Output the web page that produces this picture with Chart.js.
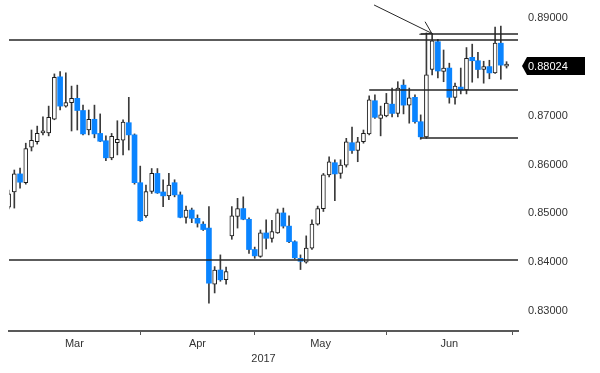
<!DOCTYPE html>
<html>
<head>
<meta charset="utf-8">
<script src="https://cdn.jsdelivr.net/npm/chart.js@4.4.1/dist/chart.umd.min.js"></script>
<style>
  html, body { margin: 0; padding: 0; background: #fff; }
  #wrap { width: 600px; height: 373px; }
</style>
</head>
<body>
<div id="wrap"><canvas id="fxChart" width="600" height="373"></canvas></div>
<script>
// daily candles, Mar - Jun 2017
const dates = [
  '2017-03-01', '2017-03-02', '2017-03-03', '2017-03-06', '2017-03-07', '2017-03-08', '2017-03-09', '2017-03-10',
  '2017-03-13', '2017-03-14', '2017-03-15', '2017-03-16', '2017-03-17', '2017-03-20', '2017-03-21', '2017-03-22',
  '2017-03-23', '2017-03-24', '2017-03-27', '2017-03-28', '2017-03-29', '2017-03-30', '2017-03-31',
  '2017-04-03', '2017-04-04', '2017-04-05', '2017-04-06', '2017-04-07', '2017-04-10', '2017-04-11', '2017-04-12',
  '2017-04-13', '2017-04-14', '2017-04-17', '2017-04-18', '2017-04-19', '2017-04-20', '2017-04-21', '2017-04-24',
  '2017-04-25', '2017-04-26', '2017-04-27', '2017-04-28',
  '2017-05-01', '2017-05-02', '2017-05-03', '2017-05-04', '2017-05-05', '2017-05-08', '2017-05-09', '2017-05-10',
  '2017-05-11', '2017-05-12', '2017-05-15', '2017-05-16', '2017-05-17', '2017-05-18', '2017-05-19', '2017-05-22',
  '2017-05-23', '2017-05-24', '2017-05-25', '2017-05-26', '2017-05-29', '2017-05-30', '2017-05-31',
  '2017-06-01', '2017-06-02', '2017-06-05', '2017-06-06', '2017-06-07', '2017-06-08', '2017-06-09', '2017-06-12',
  '2017-06-13', '2017-06-14', '2017-06-15', '2017-06-16', '2017-06-19', '2017-06-20', '2017-06-21', '2017-06-22',
  '2017-06-23', '2017-06-26', '2017-06-27', '2017-06-28', '2017-06-29', '2017-06-30'
];

const open = [
  0.8513, 0.8544, 0.8581, 0.8563, 0.8636, 0.8647, 0.8665, 0.8665, 0.8693, 0.8780,
  0.8720, 0.8727, 0.8736, 0.8711, 0.8671, 0.8693, 0.8664, 0.8649, 0.8614, 0.8645,
  0.8650, 0.8686, 0.8661, 0.8563, 0.8495, 0.8545, 0.8582, 0.8544, 0.8536, 0.8563,
  0.8538, 0.8492, 0.8507, 0.8490, 0.8478, 0.8470, 0.8355, 0.8384, 0.8364, 0.8454,
  0.8494, 0.8510, 0.8488, 0.8426, 0.8412, 0.8460, 0.8449, 0.8460, 0.8501, 0.8474,
  0.8442, 0.8408, 0.8400, 0.8429, 0.8478, 0.8510, 0.8579, 0.8604, 0.8582, 0.8599,
  0.8645, 0.8629, 0.8647, 0.8663, 0.8731, 0.8695, 0.8700, 0.8724, 0.8705, 0.8763,
  0.8722, 0.8738, 0.8688, 0.8657, 0.8795, 0.8852, 0.8791, 0.8798, 0.8738, 0.8759,
  0.8753, 0.8820, 0.8813, 0.8795, 0.8801, 0.8788, 0.8849, 0.8802
];
const high = [
  0.8548, 0.8589, 0.8593, 0.8644, 0.8671, 0.8679, 0.8698, 0.8720, 0.8786, 0.8791,
  0.8788, 0.8761, 0.8763, 0.8722, 0.8712, 0.8722, 0.8704, 0.8659, 0.8664, 0.8690,
  0.8692, 0.8738, 0.8663, 0.8597, 0.8558, 0.8592, 0.8592, 0.8569, 0.8582, 0.8569,
  0.8544, 0.8515, 0.8511, 0.8497, 0.8483, 0.8514, 0.8391, 0.8415, 0.8390, 0.8514,
  0.8531, 0.8534, 0.8491, 0.8431, 0.8466, 0.8487, 0.8486, 0.8509, 0.8511, 0.8495,
  0.8444, 0.8415, 0.8454, 0.8487, 0.8515, 0.8582, 0.8616, 0.8610, 0.8610, 0.8654,
  0.8677, 0.8656, 0.8671, 0.8741, 0.8743, 0.8720, 0.8746, 0.8757, 0.8770, 0.8774,
  0.8757, 0.8743, 0.8702, 0.8870, 0.8869, 0.8857, 0.8835, 0.8808, 0.8767, 0.8798,
  0.8840, 0.8847, 0.8830, 0.8812, 0.8814, 0.8882, 0.8884, 0.8811
];
const low = [
  0.8509, 0.8511, 0.8552, 0.8560, 0.8628, 0.8642, 0.8661, 0.8659, 0.8692, 0.8712,
  0.8718, 0.8669, 0.8671, 0.8661, 0.8661, 0.8655, 0.8647, 0.8608, 0.8610, 0.8620,
  0.8620, 0.8630, 0.8560, 0.8484, 0.8492, 0.8541, 0.8541, 0.8514, 0.8528, 0.8534,
  0.8491, 0.8480, 0.8481, 0.8472, 0.8465, 0.8316, 0.8337, 0.8361, 0.8355, 0.8447,
  0.8470, 0.8487, 0.8418, 0.8408, 0.8410, 0.8427, 0.8441, 0.8459, 0.8470, 0.8440,
  0.8407, 0.8385, 0.8398, 0.8426, 0.8476, 0.8504, 0.8575, 0.8526, 0.8572, 0.8595,
  0.8623, 0.8606, 0.8644, 0.8661, 0.8695, 0.8659, 0.8698, 0.8698, 0.8698, 0.8704,
  0.8685, 0.8685, 0.8652, 0.8654, 0.8784, 0.8778, 0.8770, 0.8726, 0.8724, 0.8745,
  0.8745, 0.8769, 0.8778, 0.8767, 0.8776, 0.8787, 0.8775, 0.8798
];
const close = [
  0.8540, 0.8581, 0.8564, 0.8633, 0.8650, 0.8664, 0.8666, 0.8697, 0.8779, 0.8720,
  0.8727, 0.8736, 0.8711, 0.8663, 0.8693, 0.8663, 0.8648, 0.8614, 0.8658, 0.8652,
  0.8687, 0.8661, 0.8563, 0.8485, 0.8545, 0.8582, 0.8542, 0.8536, 0.8558, 0.8538,
  0.8492, 0.8507, 0.8490, 0.8480, 0.8467, 0.8357, 0.8384, 0.8364, 0.8381, 0.8495,
  0.8510, 0.8488, 0.8426, 0.8413, 0.8460, 0.8449, 0.8463, 0.8501, 0.8474, 0.8442,
  0.8409, 0.8402, 0.8429, 0.8478, 0.8510, 0.8579, 0.8606, 0.8581, 0.8599, 0.8647,
  0.8629, 0.8647, 0.8664, 0.8733, 0.8697, 0.8702, 0.8726, 0.8705, 0.8757, 0.8722,
  0.8737, 0.8688, 0.8657, 0.8784, 0.8854, 0.8792, 0.8798, 0.8738, 0.8761, 0.8753,
  0.8818, 0.8813, 0.8795, 0.8801, 0.8788, 0.8849, 0.8804, 0.88024
];

const monthNames = ['Mar', 'Apr', 'May', 'Jun'];
const yearLabel = '2017';
const yTicks = [0.83, 0.84, 0.85, 0.86, 0.87, 0.88, 0.89];

// drawn levels (price), full width or starting at a candle index
const fullLevels = [0.88555, 0.84045];
const startLevels = [
  { from: 72, price: 0.88678 },
  { from: 63, price: 0.8753 },
  { from: 72, price: 0.86546 }
];
const arrowShaft = [{ x: 63.85, y: 0.89273 }, { x: 73.93, y: 0.88692 }];
const arrowHead = [{ x: 71.76, y: 0.88672 }, { x: 73.93, y: 0.88692 }, { x: 72.76, y: 0.8893 }];

const X_MIN = 0.07, X_MAX = 89.0;
const Y_MIN = 0.8259, Y_MAX = 0.89375;
const FONT = "'Liberation Sans', Arial, sans-serif";
const TXT = '#333';
const BLUE = '#0a84ff';
const LINE = '#262626';

// month boundaries from the dates
const monthStarts = [];
dates.forEach((d, i) => {
  if (i === 0 || d.slice(5, 7) !== dates[i - 1].slice(5, 7)) monthStarts.push(i);
});
monthStarts.push(dates.length);
const monthMids = monthStarts.slice(0, -1).map((s, k) => (s + monthStarts[k + 1]) / 2);

const wicks = dates.map((d, i) => ({ x: i, y: [low[i], high[i]] }));
const upBodies = [], downBodies = [];
dates.forEach((d, i) => {
  const pt = { x: i, y: [open[i], close[i]] };
  if (close[i] >= open[i]) upBodies.push(pt); else downBodies.push(pt);
});

function lineSet(data) {
  return {
    type: 'line', data: data, borderColor: LINE, borderWidth: 1.3,
    pointRadius: 0, fill: false, order: -1, clip: 0, tension: 0
  };
}
const lineSets = fullLevels.map(p => lineSet([{ x: X_MIN, y: p }, { x: X_MAX, y: p }]))
  .concat(startLevels.map(l => lineSet([{ x: l.from, y: l.price }, { x: X_MAX, y: l.price }])));
const shaft = lineSet(arrowShaft); shaft.borderWidth = 1;
const head = lineSet(arrowHead); head.borderWidth = 1;

const lastPriceTag = {
  id: 'lastPriceTag',
  afterDraw(chart) {
    const ctx = chart.ctx;
    const area = chart.chartArea;
    const last = close[close.length - 1];
    const y = chart.scales.y.getPixelForValue(last);
    const x0 = area.right + 4;
    ctx.save();
    ctx.fillStyle = '#000';
    ctx.beginPath();
    ctx.moveTo(x0, y);
    ctx.lineTo(x0 + 5, y - 9);
    ctx.lineTo(area.right + 67, y - 9);
    ctx.lineTo(area.right + 67, y + 9);
    ctx.lineTo(x0 + 5, y + 9);
    ctx.closePath();
    ctx.fill();
    ctx.fillStyle = '#fff';
    ctx.font = '11px ' + FONT;
    ctx.textBaseline = 'middle';
    ctx.textAlign = 'left';
    ctx.fillText(last.toFixed(5), area.right + 10, y + 1);
    ctx.restore();
  }
};

function noPad(s) {
  s.paddingTop = 0; s.paddingBottom = 0; s.paddingLeft = 0; s.paddingRight = 0;
}

const bottomAxis = (extra) => Object.assign({
  type: 'linear', position: 'bottom', min: X_MIN, max: X_MAX, offset: false
}, extra);

new Chart(document.getElementById('fxChart'), {
  type: 'bar',
  data: {
    datasets: [
      { data: wicks, backgroundColor: '#3a3a3a', barThickness: 1, grouped: false, order: 2, clip: 0 },
      { data: upBodies, backgroundColor: '#fff', borderColor: '#1a1a1a', borderWidth: 1, borderSkipped: false,
        barThickness: 4, minBarLength: 2, grouped: false, order: 1, clip: 0 },
      { data: downBodies, backgroundColor: BLUE, borderWidth: 0, barThickness: 5, minBarLength: 1,
        grouped: false, order: 1, clip: 0 }
    ].concat(lineSets, [shaft, head])
  },
  options: {
    responsive: false,
    animation: false,
    layout: { padding: { left: 9, right: 0, top: 0, bottom: 0 } },
    plugins: { legend: { display: false }, tooltip: { enabled: false } },
    scales: {
      x: bottomAxis({
        afterBuildTicks: s => { s.ticks = monthStarts.filter(v => v > X_MIN && v < X_MAX + 0.5).map(v => ({ value: v })); },
        afterFit: s => { s.height = 6; noPad(s); },
        grid: { display: true, offset: false, drawOnChartArea: false, drawTicks: true, tickLength: 4, color: '#555', lineWidth: 1 },
        border: { display: true, color: '#595959', width: 2 },
        ticks: { callback: () => '', font: { size: 1 } }
      }),
      xMonth: bottomAxis({
        afterBuildTicks: s => { s.ticks = monthMids.map(v => ({ value: v })); },
        afterFit: s => { s.height = 15; noPad(s); },
        grid: { display: false, offset: false, drawTicks: false },
        border: { display: false },
        ticks: { callback: (v, i) => monthNames[i], color: TXT, padding: 0, maxRotation: 0, autoSkip: false,
          font: { family: FONT, size: 11 } }
      }),
      xYear: bottomAxis({
        afterBuildTicks: s => { s.ticks = [{ value: (X_MIN + X_MAX) / 2 }]; },
        afterFit: s => { s.height = 21; noPad(s); },
        grid: { display: false, offset: false, drawTicks: false },
        border: { display: false },
        ticks: { callback: () => yearLabel, color: TXT, padding: 0, maxRotation: 0,
          font: { family: FONT, size: 11 } }
      }),
      y: {
        type: 'linear', position: 'right', min: Y_MIN, max: Y_MAX,
        afterBuildTicks: s => { s.ticks = yTicks.map(v => ({ value: v })); },
        afterFit: s => { s.width = 82; noPad(s); },
        grid: { display: false, drawTicks: false },
        border: { display: false },
        ticks: { callback: v => v.toFixed(5), color: TXT, padding: 10, font: { family: FONT, size: 11 } }
      }
    }
  },
  plugins: [lastPriceTag]
});
</script>
</body>
</html>
